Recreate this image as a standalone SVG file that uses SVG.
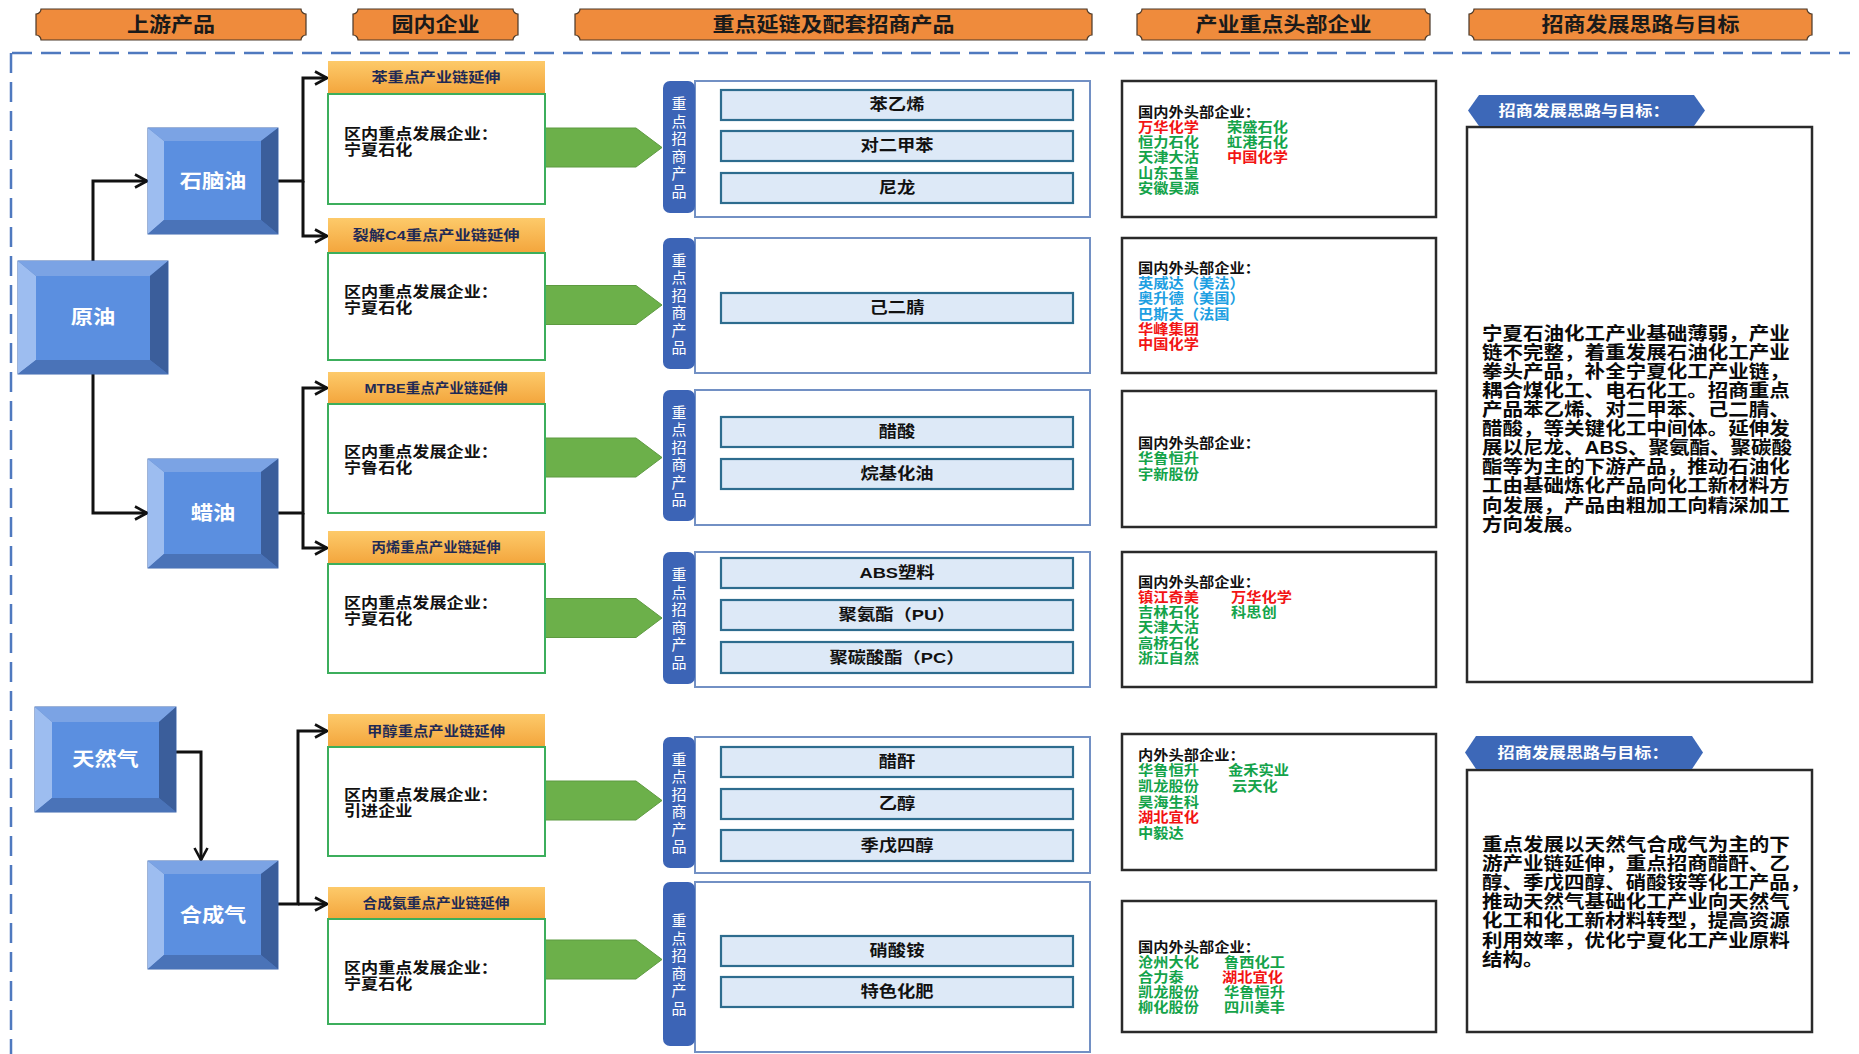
<svg xmlns="http://www.w3.org/2000/svg" width="1859" height="1054" viewBox="0 0 1859 1054">
<defs>
<style>
text{font-family:'Liberation Sans','Noto Sans CJK SC',sans-serif;font-weight:700;dominant-baseline:central}
.plaque{fill:#ef8b3c;stroke:#4a3828;stroke-width:1.2}
.hd{font-size:20px;fill:#1a1a1a;text-anchor:middle}
.dash{fill:none;stroke:#4f79bf;stroke-width:2.5;stroke-dasharray:20 9}
.bo{fill:#4b77c0;stroke:#3f68b0;stroke-width:1}
.bt{fill:#7ba3e4}.bl{fill:#9dbdf0}.br{fill:#3b5e9b}.bb{fill:#4a73b8}.bf{fill:#5b8fe0}
.bv{font-size:19px;fill:#fff;text-anchor:middle}
.oh{fill:url(#og)}
.gb{fill:#fff;stroke:#3cae5c;stroke-width:2}
.sub{font-size:13.5px;fill:#1f2a55;text-anchor:middle}
.body{font-size:15px;fill:#111}
.conn{fill:none;stroke:#111;stroke-width:3;marker-end:url(#ah)}
.garrow{fill:#6cb04a;stroke:#5d9a40;stroke-width:1}
.pbox{fill:#fff;stroke:#7290c4;stroke-width:2}
.ptab{fill:#3c64b6}
.tab{font-size:15px;fill:#fff;font-weight:400;text-anchor:middle}
.bar{fill:#dde9f7;stroke:#2d6c8e;stroke-width:2.2}
.prod{font-size:15.5px;fill:#111;text-anchor:middle}
.cbox{fill:#fff;stroke:#2a2a2a;stroke-width:2.5}
.co{font-size:14px}
.k{fill:#111}.g{fill:#14a34a}.r{fill:#f21414}.b{fill:#1e9fe2}
.rtab{fill:#3d68b8}
.tg{font-size:14.5px;fill:#fff;text-anchor:middle}
.par{font-size:18.5px;fill:#0a0a0a}
</style>
<linearGradient id="og" x1="0" y1="0" x2="0" y2="1"><stop offset="0" stop-color="#fdca6a"/><stop offset="1" stop-color="#f3a53c"/></linearGradient>
<marker id="ah" viewBox="0 0 16 16" refX="14" refY="8" markerWidth="16" markerHeight="16" markerUnits="userSpaceOnUse" orient="auto"><path d="M2,1.5 L14,8 L2,14.5" fill="none" stroke="#111" stroke-width="2.6"/></marker>
</defs>
<rect width="1859" height="1054" fill="#fff"/>

<g id="headers">
<path class="plaque" d="M41,9 H301 A5 5 0 0 0 306,14 V35 A5 5 0 0 0 301,40 H41 A5 5 0 0 0 36,35 V14 A5 5 0 0 0 41,9 Z"/>
<text class="hd" transform="translate(171,24.5) scale(1.1,1)">上游产品</text>
<path class="plaque" d="M358,9 H513 A5 5 0 0 0 518,14 V35 A5 5 0 0 0 513,40 H358 A5 5 0 0 0 353,35 V14 A5 5 0 0 0 358,9 Z"/>
<text class="hd" transform="translate(435.5,24.5) scale(1.1,1)">园内企业</text>
<path class="plaque" d="M580,9 H1087 A5 5 0 0 0 1092,14 V35 A5 5 0 0 0 1087,40 H580 A5 5 0 0 0 575,35 V14 A5 5 0 0 0 580,9 Z"/>
<text class="hd" transform="translate(833.5,24.5) scale(1.1,1)">重点延链及配套招商产品</text>
<path class="plaque" d="M1142,9 H1425 A5 5 0 0 0 1430,14 V35 A5 5 0 0 0 1425,40 H1142 A5 5 0 0 0 1137,35 V14 A5 5 0 0 0 1142,9 Z"/>
<text class="hd" transform="translate(1283.5,24.5) scale(1.1,1)">产业重点头部企业</text>
<path class="plaque" d="M1474,9 H1807 A5 5 0 0 0 1812,14 V35 A5 5 0 0 0 1807,40 H1474 A5 5 0 0 0 1469,35 V14 A5 5 0 0 0 1474,9 Z"/>
<text class="hd" transform="translate(1640.5,24.5) scale(1.1,1)">招商发展思路与目标</text>
</g>

<g id="frame">
<path class="dash" d="M12,53 H1850"/>
<path class="dash" d="M11,53 V1054"/>
</g>

<g id="connectors">
<path class="conn" d="M93,261 V181 H147"/>
<path class="conn" d="M93,374 V513 H147"/>
<path class="conn" d="M278,181 H303 V78 H327"/>
<path class="conn" d="M303,181 V236 H327"/>
<path class="conn" d="M278,513 H303 V388 H327"/>
<path class="conn" d="M303,513 V548 H327"/>
<path class="conn" d="M176,752 H201 V860"/>
<path class="conn" d="M278,904 H298 V731 H327"/>
<path class="conn" d="M298,904 H327"/>
<polygon class="garrow" points="544,128 636,128 662,147.5 636,167 544,167"/>
<polygon class="garrow" points="544,285.5 636,285.5 662,305 636,324.5 544,324.5"/>
<polygon class="garrow" points="544,438 636,438 662,457.5 636,477 544,477"/>
<polygon class="garrow" points="544,598.5 636,598.5 662,618 636,637.5 544,637.5"/>
<polygon class="garrow" points="544,781 636,781 662,800.5 636,820 544,820"/>
<polygon class="garrow" points="544,940 636,940 662,959.5 636,979 544,979"/>
</g>

<g id="node-yuanyou">
<rect class="bo" x="18" y="261" width="150" height="113"/>
<polygon class="bt" points="18,261 168,261 150,276 36,276"/>
<polygon class="bl" points="18,261 36,276 36,360 18,374"/>
<polygon class="br" points="168,261 168,374 150,360 150,276"/>
<polygon class="bb" points="18,374 36,360 150,360 168,374"/>
<rect class="bf" x="36" y="276" width="114" height="84"/>
<text class="bv" transform="translate(93,317.5) scale(1.17,1)">原油</text>
</g>

<g id="node-naphtha">
<rect class="bo" x="148" y="128" width="130" height="106"/>
<polygon class="bt" points="148,128 278,128 261,141 164,141"/>
<polygon class="bl" points="148,128 164,141 164,220 148,234"/>
<polygon class="br" points="278,128 278,234 261,220 261,141"/>
<polygon class="bb" points="148,234 164,220 261,220 278,234"/>
<rect class="bf" x="164" y="141" width="97" height="79"/>
<text class="bv" transform="translate(213,181) scale(1.17,1)">石脑油</text>
</g>

<g id="node-wax">
<rect class="bo" x="148" y="459" width="130" height="109"/>
<polygon class="bt" points="148,459 278,459 261,472 164,472"/>
<polygon class="bl" points="148,459 164,472 164,554 148,568"/>
<polygon class="br" points="278,459 278,568 261,554 261,472"/>
<polygon class="bb" points="148,568 164,554 261,554 278,568"/>
<rect class="bf" x="164" y="472" width="97" height="82"/>
<text class="bv" transform="translate(213,513.5) scale(1.17,1)">蜡油</text>
</g>

<g id="node-gas">
<rect class="bo" x="35" y="707" width="141" height="105"/>
<polygon class="bt" points="35,707 176,707 159,722 52,722"/>
<polygon class="bl" points="35,707 52,722 52,798 35,812"/>
<polygon class="br" points="176,707 176,812 159,798 159,722"/>
<polygon class="bb" points="35,812 52,798 159,798 176,812"/>
<rect class="bf" x="52" y="722" width="107" height="76"/>
<text class="bv" transform="translate(105.5,759.5) scale(1.17,1)">天然气</text>
</g>

<g id="node-syngas">
<rect class="bo" x="148" y="861" width="130" height="108"/>
<polygon class="bt" points="148,861 278,861 261,874 164,874"/>
<polygon class="bl" points="148,861 164,874 164,955 148,969"/>
<polygon class="br" points="278,861 278,969 261,955 261,874"/>
<polygon class="bb" points="148,969 164,955 261,955 278,969"/>
<rect class="bf" x="164" y="874" width="97" height="81"/>
<text class="bv" transform="translate(213,915) scale(1.17,1)">合成气</text>
</g>

<g id="ent-1">
<rect class="oh" x="328" y="61" width="217" height="33"/>
<rect class="gb" x="328" y="94" width="217" height="110"/>
<text class="sub" x="436" y="77.5" textLength="129" lengthAdjust="spacingAndGlyphs">苯重点产业链延伸</text>
<g transform="translate(344,0) scale(1.14,1)"><text class="body" x="0" y="133">区内重点发展企业：</text><text class="body" x="0" y="149.5">宁夏石化</text></g>
</g>
<g id="ent-2">
<rect class="oh" x="328" y="218" width="217" height="35"/>
<rect class="gb" x="328" y="253" width="217" height="107"/>
<text class="sub" x="436" y="235.5" textLength="167" lengthAdjust="spacingAndGlyphs">裂解C4重点产业链延伸</text>
<g transform="translate(344,0) scale(1.14,1)"><text class="body" x="0" y="291">区内重点发展企业：</text><text class="body" x="0" y="307.5">宁夏石化</text></g>
</g>
<g id="ent-3">
<rect class="oh" x="328" y="372" width="217" height="32"/>
<rect class="gb" x="328" y="404" width="217" height="109"/>
<text class="sub" x="436" y="388" textLength="143" lengthAdjust="spacingAndGlyphs">MTBE重点产业链延伸</text>
<g transform="translate(344,0) scale(1.14,1)"><text class="body" x="0" y="451">区内重点发展企业：</text><text class="body" x="0" y="467.5">宁鲁石化</text></g>
</g>
<g id="ent-4">
<rect class="oh" x="328" y="531" width="217" height="33"/>
<rect class="gb" x="328" y="564" width="217" height="109"/>
<text class="sub" x="436" y="547.5" textLength="129" lengthAdjust="spacingAndGlyphs">丙烯重点产业链延伸</text>
<g transform="translate(344,0) scale(1.14,1)"><text class="body" x="0" y="602">区内重点发展企业：</text><text class="body" x="0" y="618.5">宁夏石化</text></g>
</g>
<g id="ent-5">
<rect class="oh" x="328" y="714" width="217" height="33"/>
<rect class="gb" x="328" y="747" width="217" height="109"/>
<text class="sub" x="436" y="731" textLength="138" lengthAdjust="spacingAndGlyphs">甲醇重点产业链延伸</text>
<g transform="translate(344,0) scale(1.14,1)"><text class="body" x="0" y="794">区内重点发展企业：</text><text class="body" x="0" y="810.5">引进企业</text></g>
</g>
<g id="ent-6">
<rect class="oh" x="328" y="887" width="217" height="32"/>
<rect class="gb" x="328" y="919" width="217" height="105"/>
<text class="sub" x="436" y="903" textLength="147" lengthAdjust="spacingAndGlyphs">合成氨重点产业链延伸</text>
<g transform="translate(344,0) scale(1.14,1)"><text class="body" x="0" y="967">区内重点发展企业：</text><text class="body" x="0" y="983.5">宁夏石化</text></g>
</g>

<g id="prod-1">
<rect class="pbox" x="695" y="81" width="395" height="136"/>
<rect class="ptab" x="663" y="81" width="32" height="132" rx="7"/>
<text class="tab"><tspan x="679" y="103.25">重</tspan><tspan x="679" y="120.75">点</tspan><tspan x="679" y="138.25">招</tspan><tspan x="679" y="155.75">商</tspan><tspan x="679" y="173.25">产</tspan><tspan x="679" y="190.75">品</tspan></text>
<rect class="bar" x="721" y="90" width="352" height="30"/>
<rect class="bar" x="721" y="131" width="352" height="30"/>
<rect class="bar" x="721" y="173" width="352" height="30"/>
<text class="prod" transform="translate(897,105) scale(1.18,1)">苯乙烯</text>
<text class="prod" transform="translate(897,146) scale(1.18,1)">对二甲苯</text>
<text class="prod" transform="translate(897,188) scale(1.18,1)">尼龙</text>
</g>
<g id="prod-2">
<rect class="pbox" x="695" y="238" width="395" height="135"/>
<rect class="ptab" x="663" y="238" width="32" height="131" rx="7"/>
<text class="tab"><tspan x="679" y="259.75">重</tspan><tspan x="679" y="277.25">点</tspan><tspan x="679" y="294.75">招</tspan><tspan x="679" y="312.25">商</tspan><tspan x="679" y="329.75">产</tspan><tspan x="679" y="347.25">品</tspan></text>
<rect class="bar" x="721" y="293" width="352" height="30"/>
<text class="prod" transform="translate(897,308) scale(1.18,1)">己二腈</text>
</g>
<g id="prod-3">
<rect class="pbox" x="695" y="390" width="395" height="135"/>
<rect class="ptab" x="663" y="390" width="32" height="131" rx="7"/>
<text class="tab"><tspan x="679" y="411.75">重</tspan><tspan x="679" y="429.25">点</tspan><tspan x="679" y="446.75">招</tspan><tspan x="679" y="464.25">商</tspan><tspan x="679" y="481.75">产</tspan><tspan x="679" y="499.25">品</tspan></text>
<rect class="bar" x="721" y="417" width="352" height="30"/>
<rect class="bar" x="721" y="459" width="352" height="30"/>
<text class="prod" transform="translate(897,432) scale(1.18,1)">醋酸</text>
<text class="prod" transform="translate(897,474) scale(1.18,1)">烷基化油</text>
</g>
<g id="prod-4">
<rect class="pbox" x="695" y="552" width="395" height="135"/>
<rect class="ptab" x="663" y="552" width="32" height="132" rx="7"/>
<text class="tab"><tspan x="679" y="574.25">重</tspan><tspan x="679" y="591.75">点</tspan><tspan x="679" y="609.25">招</tspan><tspan x="679" y="626.75">商</tspan><tspan x="679" y="644.25">产</tspan><tspan x="679" y="661.75">品</tspan></text>
<rect class="bar" x="721" y="558" width="352" height="30"/>
<rect class="bar" x="721" y="600" width="352" height="30"/>
<rect class="bar" x="721" y="642" width="352" height="31"/>
<text class="prod" transform="translate(897,573) scale(1.18,1)">ABS塑料</text>
<text class="prod" transform="translate(897,615) scale(1.18,1)">聚氨酯（PU）</text>
<text class="prod" transform="translate(897,657.5) scale(1.18,1)">聚碳酸酯（PC）</text>
</g>
<g id="prod-5">
<rect class="pbox" x="695" y="737" width="395" height="136"/>
<rect class="ptab" x="663" y="737" width="32" height="131" rx="7"/>
<text class="tab"><tspan x="679" y="758.75">重</tspan><tspan x="679" y="776.25">点</tspan><tspan x="679" y="793.75">招</tspan><tspan x="679" y="811.25">商</tspan><tspan x="679" y="828.75">产</tspan><tspan x="679" y="846.25">品</tspan></text>
<rect class="bar" x="721" y="747" width="352" height="30"/>
<rect class="bar" x="721" y="789" width="352" height="30"/>
<rect class="bar" x="721" y="830" width="352" height="31"/>
<text class="prod" transform="translate(897,762) scale(1.18,1)">醋酐</text>
<text class="prod" transform="translate(897,804) scale(1.18,1)">乙醇</text>
<text class="prod" transform="translate(897,845.5) scale(1.18,1)">季戊四醇</text>
</g>
<g id="prod-6">
<rect class="pbox" x="695" y="882" width="395" height="170"/>
<rect class="ptab" x="663" y="882" width="32" height="164" rx="7"/>
<text class="tab"><tspan x="679" y="920.25">重</tspan><tspan x="679" y="937.75">点</tspan><tspan x="679" y="955.25">招</tspan><tspan x="679" y="972.75">商</tspan><tspan x="679" y="990.25">产</tspan><tspan x="679" y="1007.75">品</tspan></text>
<rect class="bar" x="721" y="936" width="352" height="30"/>
<rect class="bar" x="721" y="977" width="352" height="30"/>
<text class="prod" transform="translate(897,951) scale(1.18,1)">硝酸铵</text>
<text class="prod" transform="translate(897,992) scale(1.18,1)">特色化肥</text>
</g>

<g id="lead-1">
<rect class="cbox" x="1122" y="81" width="314" height="136"/>
<g class="co" transform="translate(1138,0) scale(1.09,1)">
<text class="k" x="0" y="112">国内外头部企业：</text>
<text class="r" x="0" y="127.2">万华化学</text><text class="g" x="81.7" y="127.2">荣盛石化</text>
<text class="g" x="0" y="142.4">恒力石化</text><text class="g" x="81.7" y="142.4">虹港石化</text>
<text class="g" x="0" y="157.6">天津大沽</text><text class="r" x="81.7" y="157.6">中国化学</text>
<text class="g" x="0" y="172.8">山东玉皇</text>
<text class="g" x="0" y="188">安徽昊源</text>
</g>
</g>
<g id="lead-2">
<rect class="cbox" x="1122" y="238" width="314" height="135"/>
<g class="co" transform="translate(1138,0) scale(1.09,1)">
<text class="k" x="0" y="268">国内外头部企业：</text>
<text class="b" x="0" y="283.3">英威达（美法）</text>
<text class="b" x="0" y="298.6">奥升德（美国）</text>
<text class="b" x="0" y="313.9">巴斯夫（法国</text>
<text class="r" x="0" y="329.2">华峰集团</text>
<text class="r" x="0" y="344.5">中国化学</text>
</g>
</g>
<g id="lead-3">
<rect class="cbox" x="1122" y="391" width="314" height="136"/>
<g class="co" transform="translate(1138,0) scale(1.09,1)">
<text class="k" x="0" y="443">国内外头部企业：</text>
<text class="g" x="0" y="458.5">华鲁恒升</text>
<text class="g" x="0" y="474">宇新股份</text>
</g>
</g>
<g id="lead-4">
<rect class="cbox" x="1122" y="552" width="314" height="135"/>
<g class="co" transform="translate(1138,0) scale(1.09,1)">
<text class="k" x="0" y="582">国内外头部企业：</text>
<text class="r" x="0" y="597.2">镇江奇美</text><text class="r" x="85.3" y="597.2">万华化学</text>
<text class="g" x="0" y="612.4">吉林石化</text><text class="g" x="85.3" y="612.4">科思创</text>
<text class="g" x="0" y="627.6">天津大沽</text>
<text class="g" x="0" y="642.8">高桥石化</text>
<text class="g" x="0" y="658">浙江自然</text>
</g>
</g>
<g id="lead-5">
<rect class="cbox" x="1122" y="734" width="314" height="136"/>
<g class="co" transform="translate(1138,0) scale(1.09,1)">
<text class="k" x="0" y="755">内外头部企业：</text>
<text class="g" x="0" y="770.6">华鲁恒升</text><text class="g" x="82.6" y="770.6">金禾实业</text>
<text class="g" x="0" y="786.2">凯龙股份</text><text class="g" x="86.2" y="786.2">云天化</text>
<text class="g" x="0" y="801.8">昊海生科</text>
<text class="r" x="0" y="817.4">湖北宜化</text>
<text class="g" x="0" y="833">中毅达</text>
</g>
</g>
<g id="lead-6">
<rect class="cbox" x="1122" y="901" width="314" height="131"/>
<g class="co" transform="translate(1138,0) scale(1.09,1)">
<text class="k" x="0" y="947">国内外头部企业：</text>
<text class="g" x="0" y="962">沧州大化</text><text class="g" x="78.9" y="962">鲁西化工</text>
<text class="g" x="0" y="977">合力泰</text><text class="r" x="77.1" y="977">湖北宜化</text>
<text class="g" x="0" y="992">凯龙股份</text><text class="g" x="78.9" y="992">华鲁恒升</text>
<text class="g" x="0" y="1007">柳化股份</text><text class="g" x="78.9" y="1007">四川美丰</text>
</g>
</g>

<g id="goal-1">
<rect class="cbox" x="1467" y="127" width="345" height="555"/>
<polygon class="rtab" points="1468,110.5 1479,95 1694,95 1705,110.5 1694,126 1479,126"/>
<text class="tg" transform="translate(1584,111) scale(1.18,1)">招商发展思路与目标：</text>
<g class="par" transform="translate(1482,0) scale(1.11,1)">
<text x="0" y="333">宁夏石油化工产业基础薄弱，产业</text>
<text x="0" y="352.1">链不完整，着重发展石油化工产业</text>
<text x="0" y="371.2">拳头产品，补全宁夏化工产业链，</text>
<text x="0" y="390.3">耦合煤化工、电石化工。招商重点</text>
<text x="0" y="409.4">产品苯乙烯、对二甲苯、己二腈、</text>
<text x="0" y="428.5">醋酸，等关键化工中间体。延伸发</text>
<text x="0" y="447.6">展以尼龙、ABS、聚氨酯、聚碳酸</text>
<text x="0" y="466.7">酯等为主的下游产品，推动石油化</text>
<text x="0" y="485.8">工由基础炼化产品向化工新材料方</text>
<text x="0" y="504.9">向发展，产品由粗加工向精深加工</text>
<text x="0" y="524">方向发展。</text>
</g>
</g>
<g id="goal-2">
<rect class="cbox" x="1467" y="770" width="345" height="262"/>
<polygon class="rtab" points="1465,752.5 1476,736 1692,736 1703,752.5 1692,769 1476,769"/>
<text class="tg" transform="translate(1583,753) scale(1.18,1)">招商发展思路与目标：</text>
<g class="par" transform="translate(1482,0) scale(1.11,1)">
<text x="0" y="844">重点发展以天然气合成气为主的下</text>
<text x="0" y="863.2">游产业链延伸，重点招商醋酐、乙</text>
<text x="0" y="882.4">醇、季戊四醇、硝酸铵等化工产品，</text>
<text x="0" y="901.6">推动天然气基础化工产业向天然气</text>
<text x="0" y="920.8">化工和化工新材料转型，提高资源</text>
<text x="0" y="940">利用效率，优化宁夏化工产业原料</text>
<text x="0" y="959.2">结构。</text>
</g>
</g>
</svg>
